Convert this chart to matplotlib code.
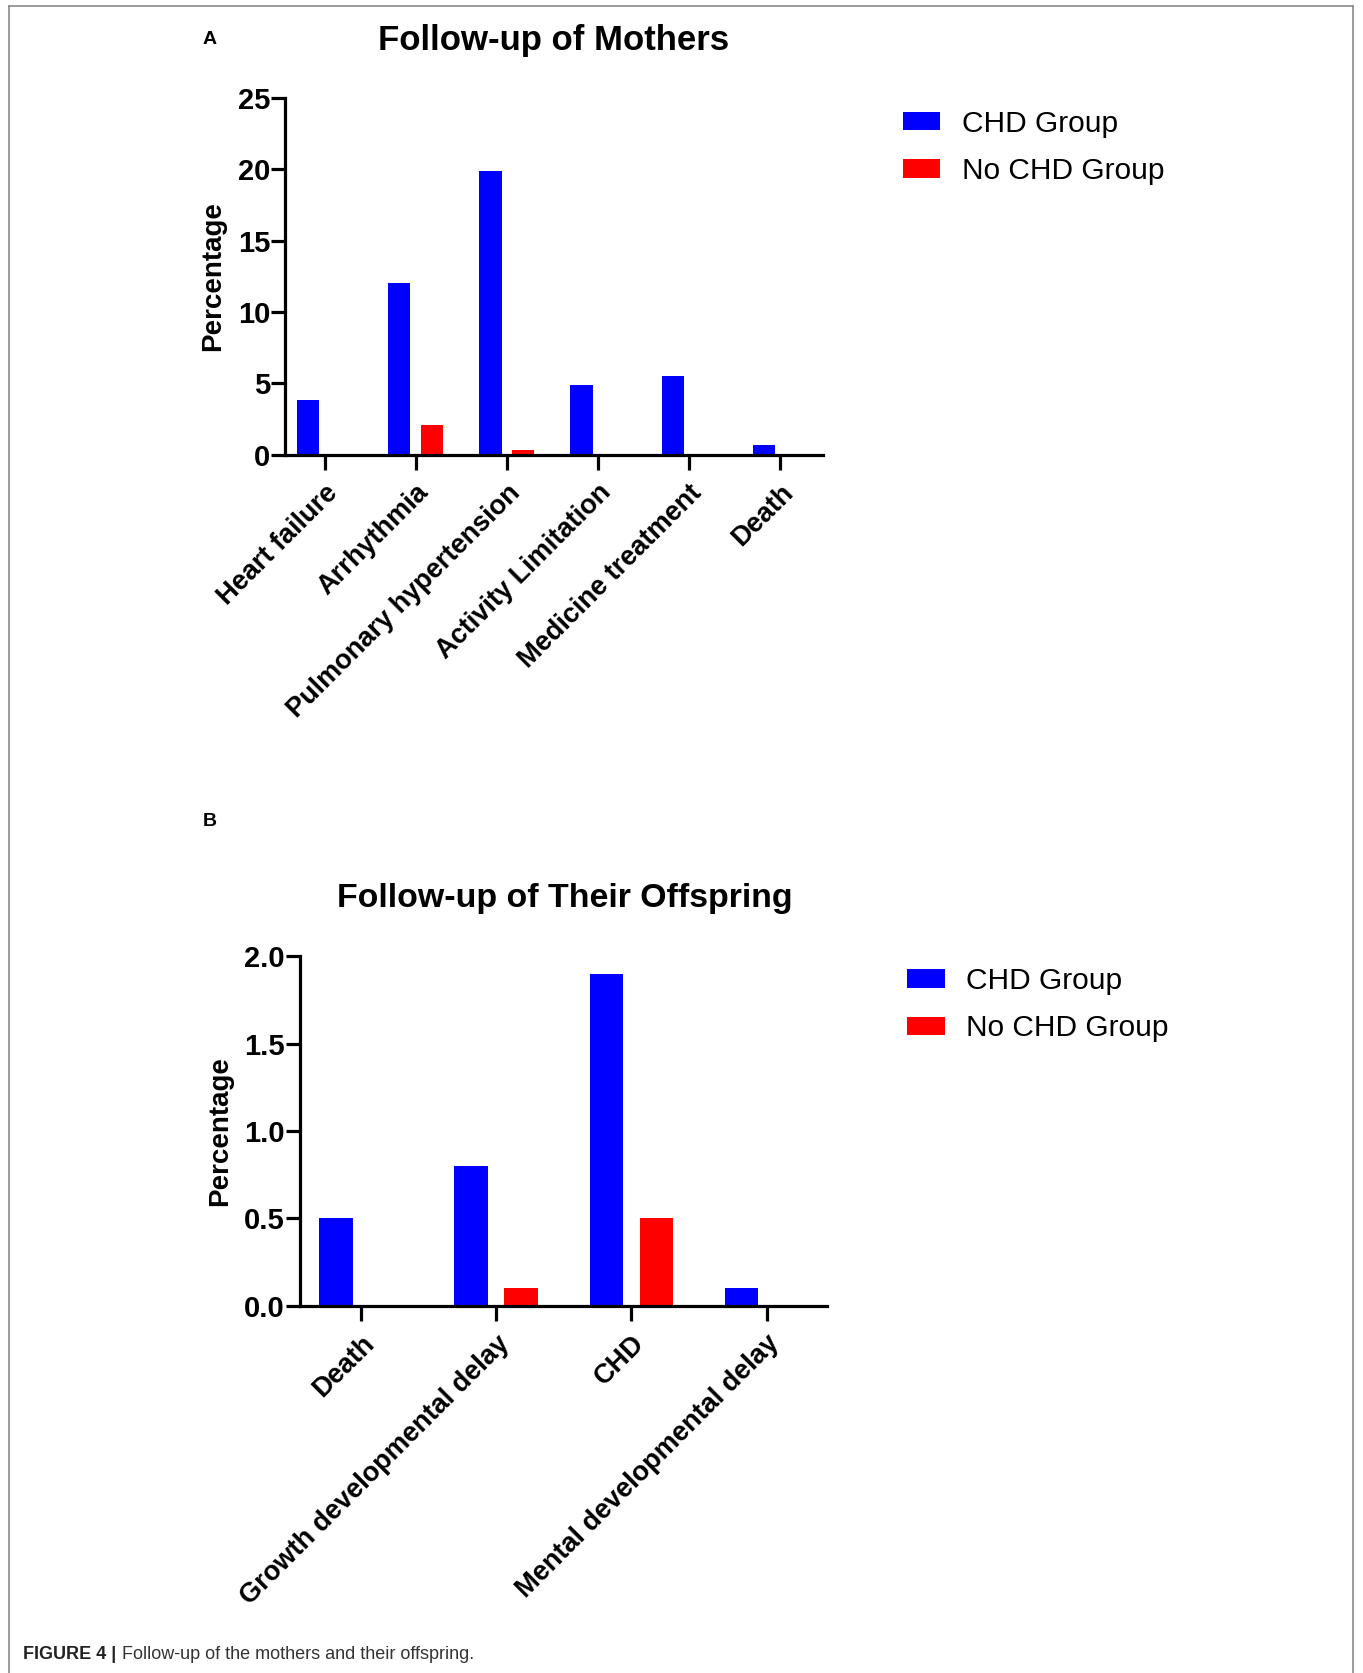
import matplotlib
matplotlib.use("Agg")
import matplotlib.pyplot as plt
from matplotlib.patches import Patch
from matplotlib.lines import Line2D
import numpy as np

# ---- data ----
cat_A = ["Heart failure", "Arrhythmia", "Pulmonary hypertension",
         "Activity Limitation", "Medicine treatment", "Death"]
chd_A = [3.8, 12.0, 19.9, 4.9, 5.5, 0.65]
nochd_A = [0.0, 2.1, 0.3, 0.0, 0.0, 0.0]
yticks_A = [0, 5, 10, 15, 20, 25]

cat_B = ["Death", "Growth developmental delay", "CHD", "Mental developmental delay"]
chd_B = [0.5, 0.8, 1.9, 0.1]
nochd_B = [0.0, 0.1, 0.5, 0.0]
yticks_B = [0.0, 0.5, 1.0, 1.5, 2.0]

series_labels = ["CHD Group", "No CHD Group"]
colors = ["#0000FF", "#FF0000"]

plt.rcParams['font.family'] = ['Liberation Sans', 'DejaVu Sans']

W, H = 1280.0, 1571.0  # reference display coordinates
fig = plt.figure(figsize=(13.63, 16.73), dpi=100)


def fx(x):
    return x / W


def fy(y):
    return 1 - y / H


def panel(rect, cats, a, b, yt, ylim, xlim, fmt, title, title_xy, title_size, letter,
          letter_xy, leg_xy, width, offs):
    ax = fig.add_axes(rect)
    x = np.arange(len(cats))
    ax.bar(x - offs, a, width=width, color=colors[0], linewidth=0)
    ax.bar(x + offs, b, width=width, color=colors[1], linewidth=0)
    ax.set_ylim(*ylim)
    ax.set_xlim(*xlim)
    ax.set_yticks(yt)
    ax.set_yticklabels([fmt.format(v) for v in yt], fontsize=21, fontweight='bold')
    ax.set_xticks(x)
    ax.set_xticklabels(cats, rotation=45, ha='right', rotation_mode='anchor',
                       fontsize=19.5, fontweight='bold')
    for s in ['top', 'right']:
        ax.spines[s].set_visible(False)
    for s in ['left', 'bottom']:
        ax.spines[s].set_linewidth(2.3)
    ax.tick_params(axis='y', length=10, width=2.3, pad=1)
    ax.tick_params(axis='x', length=11, width=2.3, pad=7)
    ax.set_ylabel("Percentage", fontsize=20, fontweight='bold', labelpad=8)
    fig.text(fx(title_xy[0]), fy(title_xy[1]), title, fontsize=title_size,
             fontweight='bold', ha='center', va='center')
    fig.text(fx(letter_xy[0]), fy(letter_xy[1]), letter, fontsize=14, fontweight='bold',
             ha='center', va='center')
    handles = [Patch(facecolor=c, edgecolor='none') for c in colors]
    fig.legend(handles, series_labels, loc='upper left',
               bbox_to_anchor=(fx(leg_xy[0]), fy(leg_xy[1])),
               frameon=False, fontsize=21.5, handlelength=1.25, handleheight=0.57,
               handletextpad=0.72, labelspacing=0.65, borderpad=0, borderaxespad=0)
    return ax


# Panel A
panel([fx(268), fy(427), fx(773) - fx(268), fy(92) - fy(427)],
      cat_A, chd_A, nochd_A, yticks_A, (0, 25), (-0.43, 5.47), "{:d}",
      "Follow-up of Mothers", (520, 38), 25, "A", (197, 37), (848, 103), 0.245, 0.18)

# Panel B
panel([fx(282), fy(1226), fx(777) - fx(282), fy(898) - fy(1226)],
      cat_B, chd_B, nochd_B, yticks_B, (0, 2.0), (-0.45, 3.45), "{:.1f}",
      "Follow-up of Their Offspring", (530, 844), 24.4, "B", (197, 771), (852, 908),
      0.25, 0.185)

# caption
fig.canvas.draw()
r = fig.canvas.get_renderer()
t1 = fig.text(fx(22), fy(1554), "FIGURE 4 | ", fontsize=13, fontweight='bold',
              ha='left', va='center', color='#222222')
bb = t1.get_window_extent(renderer=r)
x2 = bb.x1 / fig.bbox.width
fig.text(x2, fy(1554), "Follow-up of the mothers and their offspring.", fontsize=13,
         ha='left', va='center', color='#333333')

# outer frame
fc = '#8a8a8a'
fig.add_artist(Line2D([fx(8), fx(8)], [fy(6), 0], color=fc, lw=1.2))
fig.add_artist(Line2D([fx(1271), fx(1271)], [fy(6), 0], color=fc, lw=1.2))
fig.add_artist(Line2D([fx(8), fx(1271)], [fy(6), fy(6)], color=fc, lw=1.2))

fig.savefig("out.png", dpi=100)
